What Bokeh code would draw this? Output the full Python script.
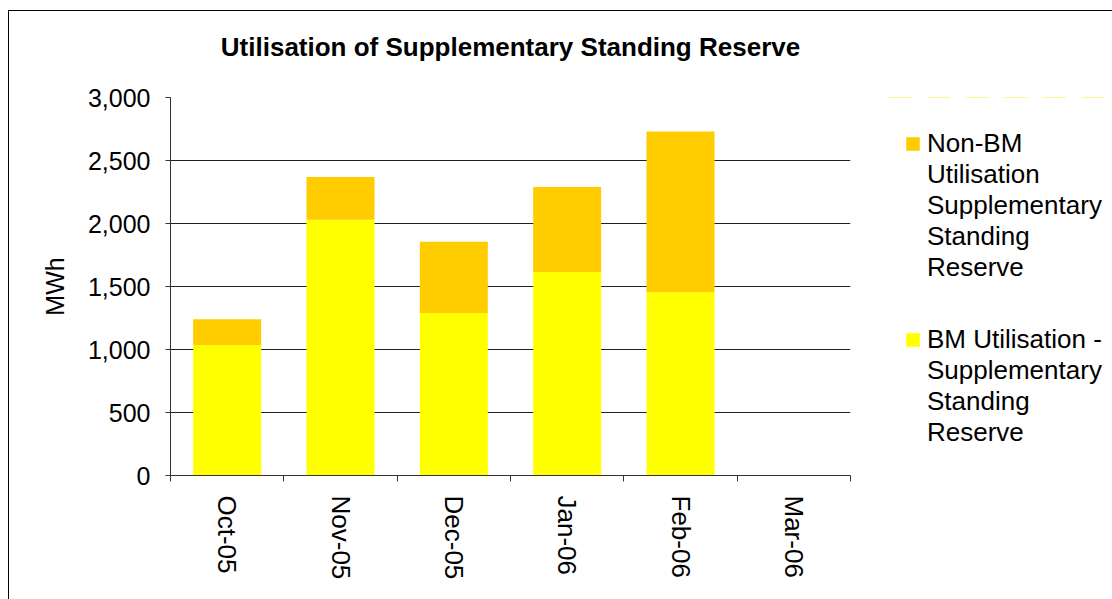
from bokeh.plotting import figure
from bokeh.layouts import row
from bokeh.models import (FactorRange, Range1d, LinearAxis, CategoricalAxis, FixedTicker,
                          NumeralTickFormatter, Legend, LegendItem, Title, ColumnDataSource)
from bokeh.embed import file_html
from bokeh.resources import INLINE

months = ["Oct-05", "Nov-05", "Dec-05", "Jan-06", "Feb-06", "Mar-06"]
bm_utilisation = [1035, 2030, 1290, 1615, 1455, 0]
non_bm_utilisation = [205, 340, 565, 675, 1275, 0]
y_ticks = [0, 500, 1000, 1500, 2000, 2500, 3000]
title_text = "Utilisation of Supplementary Standing Reserve"
y_label = "MWh"
bm_name_lines = ["BM Utilisation -", "Supplementary", "Standing", "Reserve"]
non_bm_name_lines = ["Non-BM", "Utilisation", "Supplementary", "Standing", "Reserve"]
colors = {"bm": "#FFFF00", "non_bm": "#FFCC00"}

FONT = "Liberation Sans"

src = ColumnDataSource(dict(month=months, bm=bm_utilisation, non_bm=non_bm_utilisation))

# ---------------- main chart ----------------
p = figure(width=871, height=589,
           x_range=FactorRange(*months), y_range=Range1d(0, 3000),
           x_axis_location=None,
           output_backend="svg", toolbar_location=None,
           min_border_left=161, min_border_right=30, min_border_top=86, min_border_bottom=125)

p.title = Title(text=title_text, text_font=FONT, text_font_size="26px", text_font_style="bold",
                align="center", offset=55, standoff=30, text_color="black")

rs = p.vbar_stack(["bm", "non_bm"], x="month", width=0.6,
                  color=[colors["bm"], colors["non_bm"]], source=src, line_color=None)

# invisible spacer axis between the frame and the title (invisible ticks give it height)
spacer = LinearAxis(ticker=FixedTicker(ticks=[0]), major_label_text_font_size="0px",
                    major_label_standoff=0, major_tick_in=0, major_tick_out=21,
                    minor_tick_in=0, minor_tick_out=0,
                    axis_line_color=None, major_tick_line_color=None, minor_tick_line_color=None)
p.add_layout(spacer, "above")

# boundary ticks axis (Excel style): synthetic categorical coordinates 0..N mark category edges
tick_axis = LinearAxis(ticker=FixedTicker(ticks=list(range(len(months) + 1))),
                       major_label_text_font_size="0px", major_label_standoff=0,
                       major_tick_in=0, major_tick_out=6, minor_tick_line_color=None,
                       axis_line_color="#333333", major_tick_line_color="#333333")
p.add_layout(tick_axis, "below")

cat_axis = CategoricalAxis(major_tick_line_color=None, axis_line_color=None,
                           major_label_orientation="vertical",
                           major_label_text_font=FONT, major_label_text_font_size="26px",
                           major_label_text_color="black", major_label_standoff=8)
p.add_layout(cat_axis, "below")

p.yaxis.ticker = FixedTicker(ticks=y_ticks)
p.yaxis.formatter = NumeralTickFormatter(format="0,0")
p.yaxis.major_tick_in = 0
p.yaxis.major_tick_out = 5
p.yaxis.minor_tick_line_color = None
p.yaxis.axis_line_color = "#333333"
p.yaxis.major_tick_line_color = "#333333"
p.yaxis.major_label_text_font = FONT
p.yaxis.major_label_text_font_size = "25px"
p.yaxis.major_label_text_color = "black"
p.yaxis.major_label_standoff = 15
p.yaxis.axis_label = y_label
p.yaxis.axis_label_text_font = FONT
p.yaxis.axis_label_text_font_size = "25px"
p.yaxis.axis_label_text_font_style = "normal"
p.yaxis.axis_label_text_color = "black"
p.yaxis.axis_label_standoff = 16

p.xgrid.grid_line_color = None
p.ygrid.grid_line_color = "#222222"
p.outline_line_color = None
p.background_fill_color = "white"
p.border_fill_color = "white"

# ---------------- legend panel (frame aligned with the chart's frame by the row) ----------------
# the key renderers reuse the real data but sit outside this panel's y-range, so only
# their legend swatches are visible
pl = figure(width=232, height=589, x_range=FactorRange(*months), y_range=Range1d(-2, -1),
            output_backend="svg", toolbar_location=None,
            min_border_left=0, min_border_right=0, min_border_top=0, min_border_bottom=0)
pl.axis.visible = False
pl.grid.visible = False
pl.outline_line_color = None
pl.background_fill_color = "white"
pl.border_fill_color = "white"

key_nb = pl.vbar(x="month", top="non_bm", width=0.6, source=src,
                 fill_color=colors["non_bm"], line_color=None)
key_b = pl.vbar(x="month", top="bm", width=0.6, source=src,
                fill_color=colors["bm"], line_color=None)
blank = pl.vbar(x="month", top="bm", width=0.6, source=src, fill_alpha=0, line_alpha=0)


def make_legend(lines, renderer, loc):
    items = [LegendItem(label=lines[0], renderers=[renderer])]
    items += [LegendItem(label=t, renderers=[blank]) for t in lines[1:]]
    return Legend(items=items, location=loc, label_text_font=FONT, label_text_font_size="26px",
                  label_text_color="black", glyph_width=17, glyph_height=17, label_standoff=6,
                  spacing=0, border_line_color=None, background_fill_alpha=0,
                  margin=0, padding=0)


pl.add_layout(make_legend(non_bm_name_lines, key_nb, (24, 192)), "center")
pl.add_layout(make_legend(bm_name_lines, key_b, (24, 27)), "center")

layout = row(p, pl, spacing=0)
layout.margin = (10, 0, 0, 8)
layout.styles = {"border-left": "1px solid black", "border-top": "1px solid black"}

open("out.html", "w").write(file_html(layout, INLINE))
